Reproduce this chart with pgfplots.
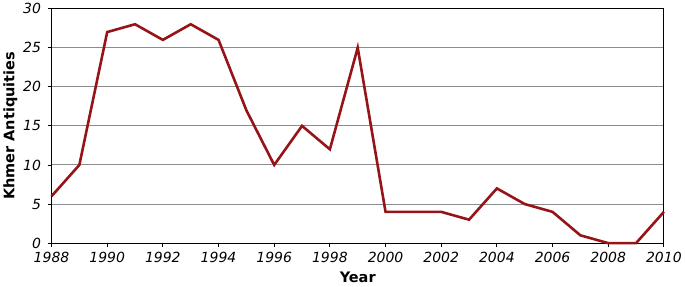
\documentclass[border=0pt]{standalone}
\usepackage{fontspec}
\setmainfont{DejaVu Sans}[ItalicFont={DejaVu Sans Oblique},BoldFont={DejaVu Sans Bold}]
\usepackage{pgfplots}
\pgfplotsset{compat=1.18}
\definecolor{linered}{RGB}{150,20,24}
\begin{document}
\begin{tikzpicture}
\begin{axis}[
  scale only axis,
  width=611bp, height=234bp,
  xmin=1988, xmax=2010, ymin=0, ymax=30,
  xtick={1988,1990,...,2010},
  ytick={0,5,...,30},
  /pgf/number format/assume math mode=true,
  /pgf/number format/1000 sep={},
  xticklabel={\itshape\pgfmathprintnumber{\tick}},
  yticklabel={\itshape\pgfmathprintnumber{\tick}},
  ticklabel style={font=\fontsize{14}{16}\selectfont},
  tick align=outside,
  major tick length=4bp,
  tick style={black, line width=0.8pt},
  xtick pos=bottom, ytick pos=left,
  yticklabel style={xshift=-3bp},
  xticklabel style={yshift=-1bp},
  ymajorgrids,
  grid style={gray!90, line width=1pt},
  axis line style={black, line width=1pt},
  xlabel={\bfseries Year},
  ylabel={\bfseries Khmer Antiquities},
  label style={font=\fontsize{14.5}{16}\selectfont},
  xlabel style={yshift=-3bp},
  ylabel style={yshift=-1bp},
  clip=false,
]
\addplot[linered, line width=2.6pt, line join=miter] coordinates {
(1988,6) (1989,10) (1990,27) (1991,28) (1992,26) (1993,28) (1994,26)
(1995,17) (1996,10) (1997,15) (1998,12) (1999,25) (2000,4) (2001,4)
(2002,4) (2003,3) (2004,7) (2005,5) (2006,4) (2007,1) (2008,0)
(2009,0) (2010,4)
};
\end{axis}
\end{tikzpicture}
\end{document}
